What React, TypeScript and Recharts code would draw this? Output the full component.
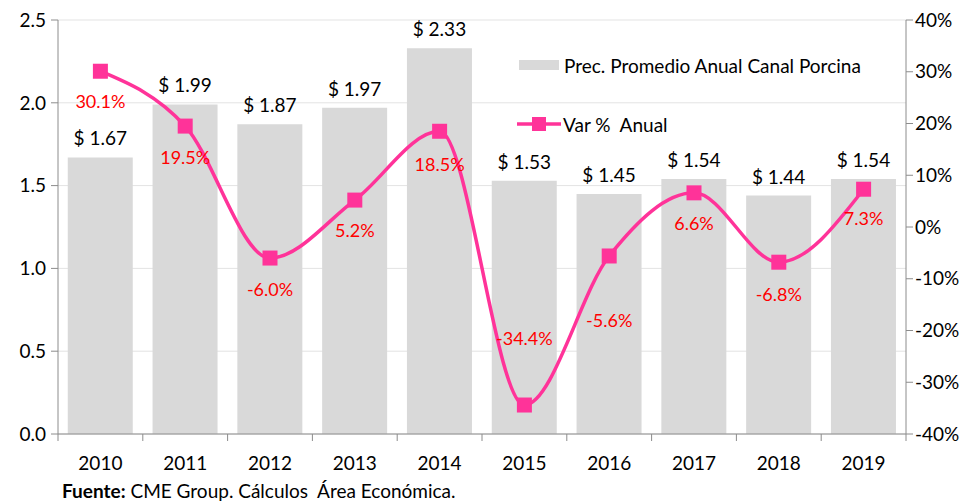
import { ComposedChart, Bar, Line, XAxis, YAxis, CartesianGrid, LabelList } from "recharts";

const years = ["2010", "2011", "2012", "2013", "2014", "2015", "2016", "2017", "2018", "2019"];
const avgPrice = [1.67, 1.99, 1.87, 1.97, 2.33, 1.53, 1.45, 1.54, 1.44, 1.54];
const annualChange = [30.1, 19.5, -6.0, 5.2, 18.5, -34.4, -5.6, 6.6, -6.8, 7.3];
const priceTicks = [0, 0.5, 1, 1.5, 2, 2.5];
const changeTicks = [-40, -30, -20, -10, 0, 10, 20, 30, 40];

const PRICE_NAME = "Prec. Promedio Anual Canal Porcina";
const CHANGE_NAME = "Var %  Anual";

const FONT = "Lato, 'Open Sans', sans-serif";
const AXIS_GRAY = "#8c8c8c";
const PINK = "#ff3399";
const SLOT = 84.8; // width of one category band

// vertical shift of each % label relative to its marker
const changeLabelDy = [30, 31, 31, 30, 33, -67, 64, 30, 32, 29];

const data = years.map((year, i) => ({ year, price: avgPrice[i], change: annualChange[i] }));

function YearTick(props: any) {
  const { x, y, payload, index } = props;
  return (
    <g>
      <line x1={x - SLOT / 2} y1={y} x2={x - SLOT / 2} y2={y + 7} stroke={AXIS_GRAY} />
      {index === years.length - 1 && (
        <line x1={x + SLOT / 2} y1={y} x2={x + SLOT / 2} y2={y + 7} stroke={AXIS_GRAY} />
      )}
      <text x={x} y={y + 28} textAnchor="middle" dominantBaseline="central" fontSize={19} fill="#000" fontFamily={FONT}>
        {payload.value}
      </text>
    </g>
  );
}

function SquareDot(props: any) {
  const { cx, cy, index } = props;
  return <rect key={`dot-${index}`} x={cx - 7.5} y={cy - 7.5} width={15} height={15} fill={PINK} />;
}

function ChangeLabel(props: any) {
  const { x, y, value, index } = props;
  return (
    <text
      x={x}
      y={y + changeLabelDy[index]}
      textAnchor="middle"
      dominantBaseline="central"
      fontSize={18}
      fill="#ff0000"
      fontFamily={FONT}
    >
      {`${Number(value).toFixed(1)}%`}
    </text>
  );
}

function ChartLegend() {
  return (
    <div style={{ position: "absolute", left: 519, top: 52, fontFamily: FONT, fontSize: 19, color: "#000", whiteSpace: "pre" }}>
      <div style={{ display: "flex", alignItems: "center", height: 26 }}>
        <span style={{ display: "inline-block", width: 40, height: 10, background: "#d9d9d9", marginRight: 5 }} />
        {PRICE_NAME}
      </div>
      <div style={{ display: "flex", alignItems: "center", height: 26, marginTop: 33, marginLeft: -2 }}>
        <svg width={44} height={16} style={{ marginRight: 2 }}>
          <line x1={0} y1={8} x2={44} y2={8} stroke={PINK} strokeWidth={3.5} />
          <rect x={15} y={1} width={14} height={14} fill={PINK} />
        </svg>
        {CHANGE_NAME}
      </div>
    </div>
  );
}

export default function App() {
  return (
    <div style={{ position: "absolute", left: 0, top: 0, width: 967, height: 502, background: "#fff", overflow: "hidden" }}>
      <ComposedChart
        width={967}
        height={502}
        data={data}
        margin={{ top: 20, right: 0, left: 0, bottom: 0 }}
        barCategoryGap="11.5%"
      >
        <CartesianGrid yAxisId="price" vertical={false} stroke="#e3e3e3" />
        <XAxis
          dataKey="year"
          height={68}
          tickLine={false}
          tickSize={0}
          tickMargin={0}
          stroke={AXIS_GRAY}
          tick={<YearTick />}
          interval={0}
        />
        <YAxis
          yAxisId="price"
          width={58}
          domain={[0, 2.5]}
          ticks={priceTicks}
          tickFormatter={(v: number) => v.toFixed(1)}
          stroke={AXIS_GRAY}
          tickSize={7}
          tickMargin={5}
          tick={{ fill: "#000", fontSize: 19, fontFamily: FONT }}
        />
        <YAxis
          yAxisId="change"
          orientation="right"
          width={61}
          domain={[-40, 40]}
          ticks={changeTicks}
          tickFormatter={(v: number) => `${v}%`}
          stroke={AXIS_GRAY}
          tickSize={7}
          tickMargin={2}
          tick={{ fill: "#000", fontSize: 19, fontFamily: FONT, textAnchor: "start" }}
        />
        <Bar yAxisId="price" dataKey="price" name={PRICE_NAME} fill="#d9d9d9" isAnimationActive={false}>
          <LabelList
            dataKey="price"
            position="top"
            offset={12}
            formatter={(v: any) => `$ ${Number(v).toFixed(2)}`}
            style={{ fill: "#000", fontSize: 19, fontFamily: FONT }}
          />
        </Bar>
        <Line
          yAxisId="change"
          dataKey="change"
          name={CHANGE_NAME}
          type="monotone"
          stroke={PINK}
          strokeWidth={3.5}
          dot={SquareDot}
          activeDot={false}
          isAnimationActive={false}
        >
          <LabelList dataKey="change" content={<ChangeLabel />} />
        </Line>
      </ComposedChart>
      <ChartLegend />
      <div style={{ position: "absolute", left: 62, top: 481, lineHeight: "20px", fontFamily: FONT, fontSize: 19, color: "#000", whiteSpace: "pre" }}>
        <b>Fuente:</b> CME Group. Cálculos  Área Económica.
      </div>
    </div>
  );
}
